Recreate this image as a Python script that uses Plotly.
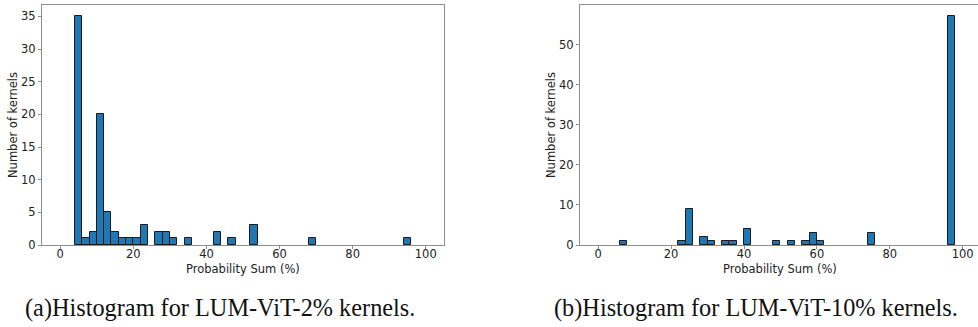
import plotly.graph_objects as go

# ---- data ----
BIN_WIDTH = 2
left_bin_starts = [4, 6, 8, 10, 12, 14, 16, 18, 20, 22, 26, 28, 30, 34, 42, 46, 52, 68, 94]
left_counts     = [35, 1, 2, 20, 5, 2, 1, 1, 1, 3, 2, 2, 1, 1, 2, 1, 3, 1, 1]
right_bin_starts = [6, 22, 24, 28, 30, 34, 36, 40, 48, 52, 56, 58, 60, 74, 96]
right_counts     = [1, 1, 9, 2, 1, 1, 1, 4, 1, 1, 1, 3, 1, 3, 57]
x_ticks = [0, 20, 40, 60, 80, 100]
left_y_ticks = [0, 5, 10, 15, 20, 25, 30, 35]
right_y_ticks = [0, 10, 20, 30, 40, 50]
x_title = "Probability Sum (%)"
y_title = "Number of kernels"
caption_a = "(a)Histogram for LUM-ViT-2% kernels."
caption_b = "(b)Histogram for LUM-ViT-10% kernels."

W, H = 978, 327
BAR = "#1f77b4"
SPINE = "#8c8c8c"
FONT = "DejaVu Sans"

def px_x(p):
    return p / W

def px_y(p):
    return 1 - p / H

fig = go.Figure()
fig.add_trace(go.Bar(
    x=[s + BIN_WIDTH / 2 for s in left_bin_starts], y=left_counts, width=BIN_WIDTH,
    marker=dict(color=BAR, line=dict(color="#1a1a1a", width=1)),
    xaxis="x", yaxis="y", showlegend=False, hoverinfo="skip"))
fig.add_trace(go.Bar(
    x=[s + BIN_WIDTH / 2 for s in right_bin_starts], y=right_counts, width=BIN_WIDTH,
    marker=dict(color=BAR, line=dict(color="#1a1a1a", width=1)),
    xaxis="x2", yaxis="y2", showlegend=False, hoverinfo="skip"))

ax_common = dict(showgrid=False, zeroline=False, showline=True, linecolor=SPINE, linewidth=1,
                 ticks="outside", ticklen=3, tickcolor=SPINE, automargin=False,
                 tickfont=dict(family=FONT, size=11.5, color="#222"))
ydom = [px_y(245), px_y(5)]

fig.update_layout(
    width=W, height=H, margin=dict(l=0, r=0, t=0, b=0, pad=0, autoexpand=False),
    paper_bgcolor="white", plot_bgcolor="white", bargap=0, hovermode=False,
    xaxis=dict(domain=[px_x(42), px_x(444)], range=[-5, 105], tickvals=x_ticks,
               mirror=True, anchor="y", ticklabelstandoff=-5, **ax_common),
    yaxis=dict(domain=ydom, range=[0, 36.75], tickvals=left_y_ticks,
               mirror=True, anchor="x", **ax_common),
    xaxis2=dict(domain=[px_x(580), 1.0], range=[-5, 104.2], tickvals=x_ticks,
                mirror=True, anchor="y2", ticklabelstandoff=-5, **ax_common),
    yaxis2=dict(domain=ydom, range=[0, 59.85], tickvals=right_y_ticks,
                mirror=False, anchor="x2", **ax_common),
)

lab_font = dict(family=FONT, size=11.5, color="#222")
cap_font = dict(family="Liberation Serif", size=24.3, color="#111")
ann = [
    dict(text=x_title, x=px_x(243), y=px_y(268.5), xanchor="center", yanchor="middle", font=lab_font),
    dict(text=x_title, x=px_x(780), y=px_y(268.5), xanchor="center", yanchor="middle", font=lab_font),
    dict(text=y_title, x=px_x(13), y=px_y(125), xanchor="center", yanchor="middle",
         textangle=-90, font=lab_font),
    dict(text=y_title, x=px_x(551), y=px_y(125), xanchor="center", yanchor="middle",
         textangle=-90, font=lab_font),
    dict(text=caption_a, x=px_x(220), y=px_y(308), xanchor="center", yanchor="middle", font=cap_font),
    dict(text=caption_b, x=px_x(552), y=px_y(308), xanchor="left", yanchor="middle", font=cap_font),
]
for a in ann:
    a.update(xref="paper", yref="paper", showarrow=False)
fig.update_layout(annotations=ann)

fig.write_html("out.html", config={"displayModeBar": False},
               post_script="document.body.style.margin='0';document.body.style.overflow='hidden';")
